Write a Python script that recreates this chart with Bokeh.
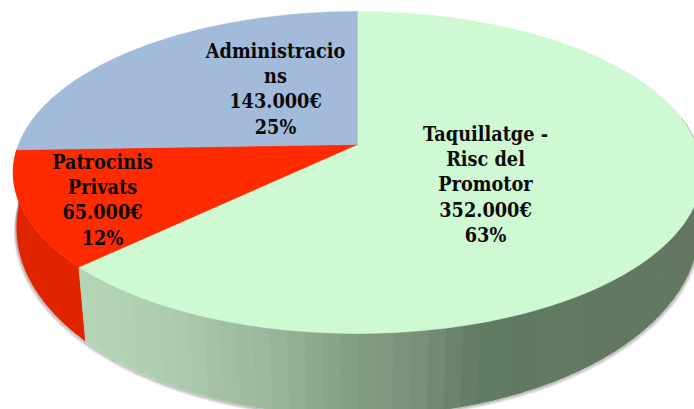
import numpy as np
from bokeh.plotting import figure
from bokeh.embed import file_html
from bokeh.resources import INLINE
from bokeh.core.properties import value

categories = ["Taquillatge - Risc del Promotor", "Patrocinis Privats", "Administracions"]
amounts = [352000, 65000, 143000]
top_colors = ["#CFF9D2", "#FF2A00", "#A2BBDB"]
red_wall = "#E02400"
label_lines = [["Taquillatge -", "Risc del", "Promotor", "352.000€", "63%"],
               ["Patrocinis", "Privats", "65.000€", "12%"],
               ["Administracio", "ns", "143.000€", "25%"]]
label_x = [485, 102, 275]
label_y0 = [134, 162, 51]
label_step = 25.2

stop_x = [85, 170, 260, 347, 420, 480, 700]
stop_rgb = np.array([[179, 214, 182], [173, 203, 174], [157, 184, 157], [132, 159, 132],
                     [121, 143, 120], [97, 122, 98], [99, 119, 98]], float)

TOP_K = 0.174
APEX = (357, 144)
TOP_A, TOP_B = 156.1, 339
BOT_K = 0.15
BOT_APEX = (357, 200)
BOT_A, BOT_B = 182.8, 337


def project(theta, apex, a, b, k):
    t = np.radians(theta)
    sx, sy = np.sin(t), np.cos(t)
    d = 1 + k * sy
    return apex[0] + b * sx / d, apex[1] - a * sy / d


def top_edge(theta):
    return project(theta, APEX, TOP_A, TOP_B, TOP_K)


def bottom_edge(theta):
    return project(theta, BOT_APEX, BOT_A, BOT_B, BOT_K)


frac = np.array(amounts, float) / sum(amounts)
edges = np.concatenate([[0], np.cumsum(frac) * 360])

p = figure(width=694, height=409, x_range=(0, 694), y_range=(409, 0),
           output_backend="svg", toolbar_location=None, min_border=0,
           outline_line_color=None, background_fill_color="white")
p.axis.visible = False
p.grid.visible = False

# soft shadow under the wall
th = np.linspace(80, 280, 200)
sx, sy = bottom_edge(th)
for off, alpha in [(3.0, 0.10), (2.0, 0.2), (1.0, 0.35)]:
    p.line(sx + np.where(th > 180, -off * 0.7, off * 0.7), sy + off, line_color="#555555",
           line_alpha=alpha, line_width=1.5)

# walls
green_end = edges[1]
red_end = edges[2]
th_r = np.linspace(green_end, min(red_end, 280), 60)
tx, ty = top_edge(th_r)
bx, by = bottom_edge(th_r)
p.patch(np.r_[tx, bx[::-1]], np.r_[ty, by[::-1]], fill_color=red_wall, line_color=red_wall, line_width=0.5)

th_g = np.arange(80, green_end + 0.01, 2.5)
th_g = np.r_[th_g, green_end] if th_g[-1] < green_end else th_g
tx, ty = top_edge(th_g)
bx, by = bottom_edge(th_g)
qx, qy, qc = [], [], []
for i in range(len(th_g) - 1):
    qx.append([tx[i], tx[i + 1], bx[i + 1], bx[i]])
    qy.append([ty[i], ty[i + 1], by[i + 1], by[i]])
    xm = (tx[i] + tx[i + 1]) / 2
    c = [np.interp(xm, stop_x, stop_rgb[:, j]) for j in range(3)]
    qc.append("#%02x%02x%02x" % tuple(int(round(v)) for v in c))
p.patches(qx, qy, fill_color=qc, line_color=qc, line_width=1)

# top faces
for i in range(3):
    th = np.linspace(edges[i], edges[i + 1], 160)
    x, y = top_edge(th)
    p.patch(np.r_[APEX[0], x], np.r_[APEX[1], y], fill_color=top_colors[i], line_color=top_colors[i], line_width=0.5)

# labels
for lines, lx, ly in zip(label_lines, label_x, label_y0):
    p.text([lx] * len(lines), [ly + k * label_step for k in range(len(lines))], text=lines,
           text_font=value("DejaVu Serif Condensed"), text_font_style="bold", text_font_size="19.7px",
           text_align="center", text_baseline="middle", text_color="#0a0a0a")

open("out.html", "w").write(file_html(p, INLINE))
